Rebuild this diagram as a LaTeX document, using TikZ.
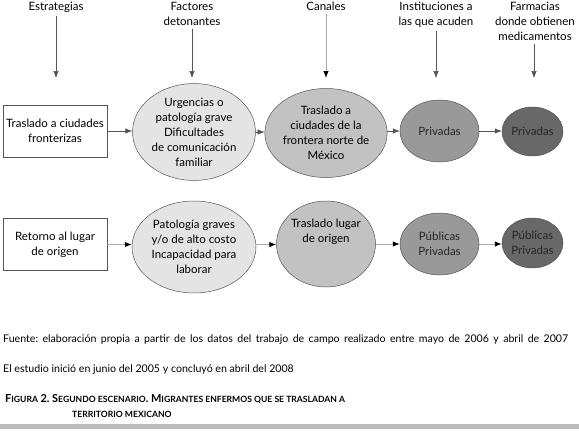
\documentclass[tikz,border=0pt]{standalone}
\usepackage{fontspec}
\setmainfont{Lato}
\usetikzlibrary{shapes.geometric,arrows.meta}
\frenchspacing
\definecolor{ell1}{HTML}{E4E4E4}
\definecolor{ell2}{HTML}{C2C2C2}
\definecolor{ell3}{HTML}{999999}
\definecolor{ell4}{HTML}{686868}
\definecolor{edgegray}{HTML}{555555}
\definecolor{lightline}{HTML}{AAAAAA}
\definecolor{rulegray}{HTML}{BBBBBB}
\newcommand\capbig[1]{{\fontsize{11}{12}\selectfont #1}}
\newcommand\capsml[1]{{\fontsize{8.6}{12}\selectfont #1}}
\tikzset{
  txt/.style={font=\fontsize{11.5}{15}\selectfont, align=center, inner sep=0pt},
  hdr/.style={txt, anchor=north},
  sbox/.style={draw=edgegray, fill=white, line width=0.6pt, minimum width=104pt, minimum height=52pt, txt},
  ell/.style={ellipse, draw=edgegray, line width=0.5pt, inner sep=0pt, txt},
  arr/.style={-{Latex[length=7pt,width=5.5pt]}, color=edgegray, line width=0.6pt},
  arrl/.style={-{Latex[length=7pt,width=5.5pt,color=black]}, color=lightline, line width=0.8pt},
  foot/.style={font=\fontsize{10.6}{12}\selectfont, anchor=west, inner sep=0pt},
}
\begin{document}
\begin{tikzpicture}[x=1pt,y=-1pt]
\useasboundingbox (0,0) rectangle (579,431);
% headers
\node[hdr] (h1) at (56,2) {Estrategias};
\node[hdr] (h2) at (192,2) {Factores\\detonantes};
\node[hdr] (h3) at (326,2) {Canales};
\node[hdr] (h4) at (436,2) {Instituciones a\\las que acuden};
\node[hdr] (h5) at (535,2) {Farmacias\\donde obtienen\\medicamentos};
\coordinate (e1) at (56,78);
\coordinate (e2) at (192,78);
\coordinate (e3) at (326,78);
\coordinate (e4) at (436,78);
\coordinate (e5) at (534,78);
\draw[arr] (h1.south) ++(0,3) -- (e1);
\draw[arr] (h2.south) ++(0,3) -- (e2);
\draw[arrl] (h3.south) ++(0,3) -- (e3);
\draw[arr] (h4.south -| e4) ++(0,3) -- (e4);
\draw[arr] (h5.south -| e5) ++(0,3) -- (e5);
% row 1
\node[sbox] (b1) at (55,131) {Traslado a ciudades\\fronterizas};
\node[ell, fill=ell1, minimum width=123pt, minimum height=94pt] (a1) at (194,132) {Urgencias o\\patología grave\\Dificultades\\de comunicación\\familiar};
\node[ell, fill=ell2, minimum width=99pt, minimum height=89pt] (c1) at (326,133) {Traslado a\\ciudades de la\\frontera norte de\\México};
\node[ell, fill=ell3, minimum width=79pt, minimum height=62pt, text=black!85] (d1) at (439.5,131) {Privadas};
\node[ell, fill=ell4, minimum width=61pt, minimum height=49pt, text=black!85] (f1) at (532.5,131.5) {Privadas};
\draw[arr] (b1.east) -- (a1.west |- b1.east);
\draw[arr] (a1.east) -- (c1.west |- a1.east);
\draw[arr] (c1.east |- d1.west) -- (d1.west);
\draw[arr] (d1.east) -- (f1.west |- d1.east);
% row 2
\node[sbox] (b2) at (55,244.5) {Retorno al lugar\\de origen};
\node[ell, fill=ell1, minimum width=124pt, minimum height=92pt] (a2) at (194,247) {Patología graves\\y/o de alto costo\\Incapacidad para\\laborar};
\node[ell, fill=ell2, minimum width=99pt, minimum height=86pt] (c2) at (326,244) {\raisebox{9pt}[0pt][0pt]{\begin{tabular}{@{}c@{}}Traslado lugar\\de origen\end{tabular}}};
\node[ell, fill=ell3, minimum width=79pt, minimum height=62pt, text=black!85] (d2) at (439.5,244) {Públicas\\Privadas};
\node[ell, fill=ell4, minimum width=61pt, minimum height=50pt, text=black!85] (f2) at (532.5,243) {Públicas\\Privadas};
\draw[arrl] (b2.east) -- (a2.west |- b2.east);
\draw[arrl] (a2.east |- b2.east) -- (c2.west |- b2.east);
\draw[arrl] (c2.east |- d2.west) -- (d2.west);
\draw[arrl] (d2.east) -- (f2.west |- d2.east);
% footer
\node[foot] (fu) at (3,340) {\makebox[565pt][s]{Fuente: elaboración propia a partir de los datos del trabajo de campo realizado entre mayo de 2006 y abril de 2007}};
\node[foot] (es) at (3,370) {El estudio inició en junio del 2005 y concluyó en abril del 2008};
\node[anchor=west, inner sep=0pt, font=\bfseries] (cap1) at (5,399) {\capbig{F}\capsml{IGURA} \capbig{2. S}\capsml{EGUNDO ESCENARIO}\capbig{. M}\capsml{IGRANTES ENFERMOS QUE SE TRASLADAN A}};
\node[anchor=west, inner sep=0pt, font=\bfseries] (cap2) at (72,414) {\capsml{TERRITORIO MEXICANO}};
\fill[rulegray] (0,424) rectangle (579,429);
\end{tikzpicture}
\end{document}
